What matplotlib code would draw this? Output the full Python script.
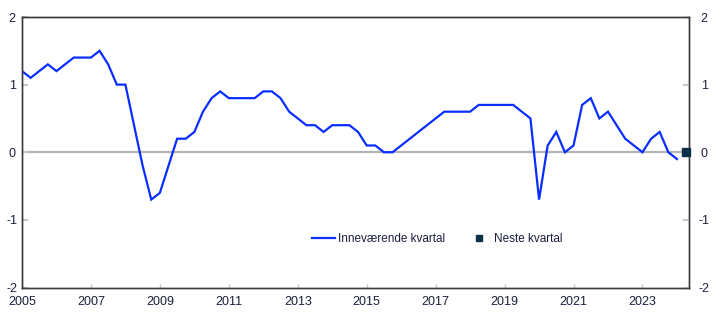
import matplotlib
matplotlib.use("Agg")
import matplotlib.pyplot as plt
from matplotlib.lines import Line2D
import numpy as np

plt.rcParams['font.family'] = ['Liberation Sans Narrow', 'Liberation Sans', 'DejaVu Sans']

# Quarterly observations, 2005Q1 - 2024Q1
start_year = 2005
current_quarter = [
    1.2, 1.1, 1.2, 1.3, 1.2, 1.3, 1.4, 1.4, 1.4, 1.5,   # 2005Q1-2007Q2
    1.3, 1.0, 1.0, 0.4, -0.2, -0.7, -0.6, -0.2, 0.2, 0.2,  # 2007Q3-2009Q4
    0.3, 0.6, 0.8, 0.9, 0.8, 0.8, 0.8, 0.8, 0.9, 0.9,   # 2010Q1-2012Q2
    0.8, 0.6, 0.5, 0.4, 0.4, 0.3, 0.4, 0.4, 0.4, 0.3,   # 2012Q3-2014Q4
    0.1, 0.1, 0.0, 0.0, 0.1, 0.2, 0.3, 0.4, 0.5, 0.6,   # 2015Q1-2017Q2
    0.6, 0.6, 0.6, 0.7, 0.7, 0.7, 0.7, 0.7, 0.6, 0.5,   # 2017Q3-2019Q4
    -0.7, 0.1, 0.3, 0.0, 0.1, 0.7, 0.8, 0.5, 0.6, 0.4,  # 2020Q1-2022Q2
    0.2, 0.1, 0.0, 0.2, 0.3, 0.0, -0.1,                 # 2022Q3-2024Q1
]
next_quarter = [0.0]          # 2024Q2
next_quarter_index = [77]

year_ticks = [2005, 2007, 2009, 2011, 2013, 2015, 2017, 2019, 2021, 2023]
y_ticks = [-2, -1, 0, 1, 2]

x_cur = start_year + np.arange(len(current_quarter)) / 4
x_next = start_year + np.array(next_quarter_index) / 4

text_color = '#1b1f3b'
line_color = '#0a2eff'
marker_color = '#0c2f4a'
tick_color = '#c8c8c8'

fig = plt.figure(figsize=(7.22, 3.30), dpi=100)
ax = fig.add_axes([22 / 722, 1 - 287.5 / 330, (689 - 22) / 722, (287.5 - 17) / 330])
ax_r = ax.twinx()

ax.axhline(0, color='#b4b4b4', lw=1.6, zorder=1)
ax.plot(x_cur, current_quarter, color=line_color, lw=1.6, zorder=3,
        solid_joinstyle='miter')

ax.set_xlim(2005, 2024.35)
for a in (ax, ax_r):
    a.set_ylim(-2, 2)
    a.set_yticks(y_ticks)
    a.set_yticklabels([str(v) for v in y_ticks])
ax.set_xticks(year_ticks)
ax.set_xticklabels([str(y) for y in year_ticks])

# next-quarter marker sits on the right spine, drawn above it
ax_r.plot(x_next, next_quarter, ls='none', marker='s', ms=5.5,
          color=marker_color, zorder=5, clip_on=False)

for a in (ax, ax_r):
    for side in ['left', 'right', 'top', 'bottom']:
        a.spines[side].set_color('#3a3a3a')
        a.spines[side].set_linewidth(1.0)

ax.tick_params(axis='x', direction='in', length=3, width=1, color=tick_color,
               labelsize=9, labelcolor=text_color, pad=6)
ax.tick_params(axis='y', direction='in', length=4, width=1.5, color=tick_color,
               labelsize=9, labelcolor=text_color, pad=7)
ax_r.tick_params(axis='y', direction='in', length=4, width=1.5, color=tick_color,
                 labelsize=9, labelcolor=text_color, pad=11)
for lbl in ax.get_yticklabels() + ax_r.get_yticklabels():
    lbl.set_horizontalalignment('center')

handles = [
    Line2D([0], [0], color=line_color, lw=1.6),
    Line2D([0], [0], ls='none', marker='s', ms=4.5, color=marker_color),
]
leg = ax.legend(handles, ['Inneværende kvartal', 'Neste kvartal'],
                loc='center', bbox_to_anchor=(0.6225, 0.178), ncol=2,
                frameon=False, fontsize=8.5, handlelength=1.95,
                handletextpad=0.25, columnspacing=1.9, labelcolor=text_color)

fig.savefig('out.png', dpi=100)
